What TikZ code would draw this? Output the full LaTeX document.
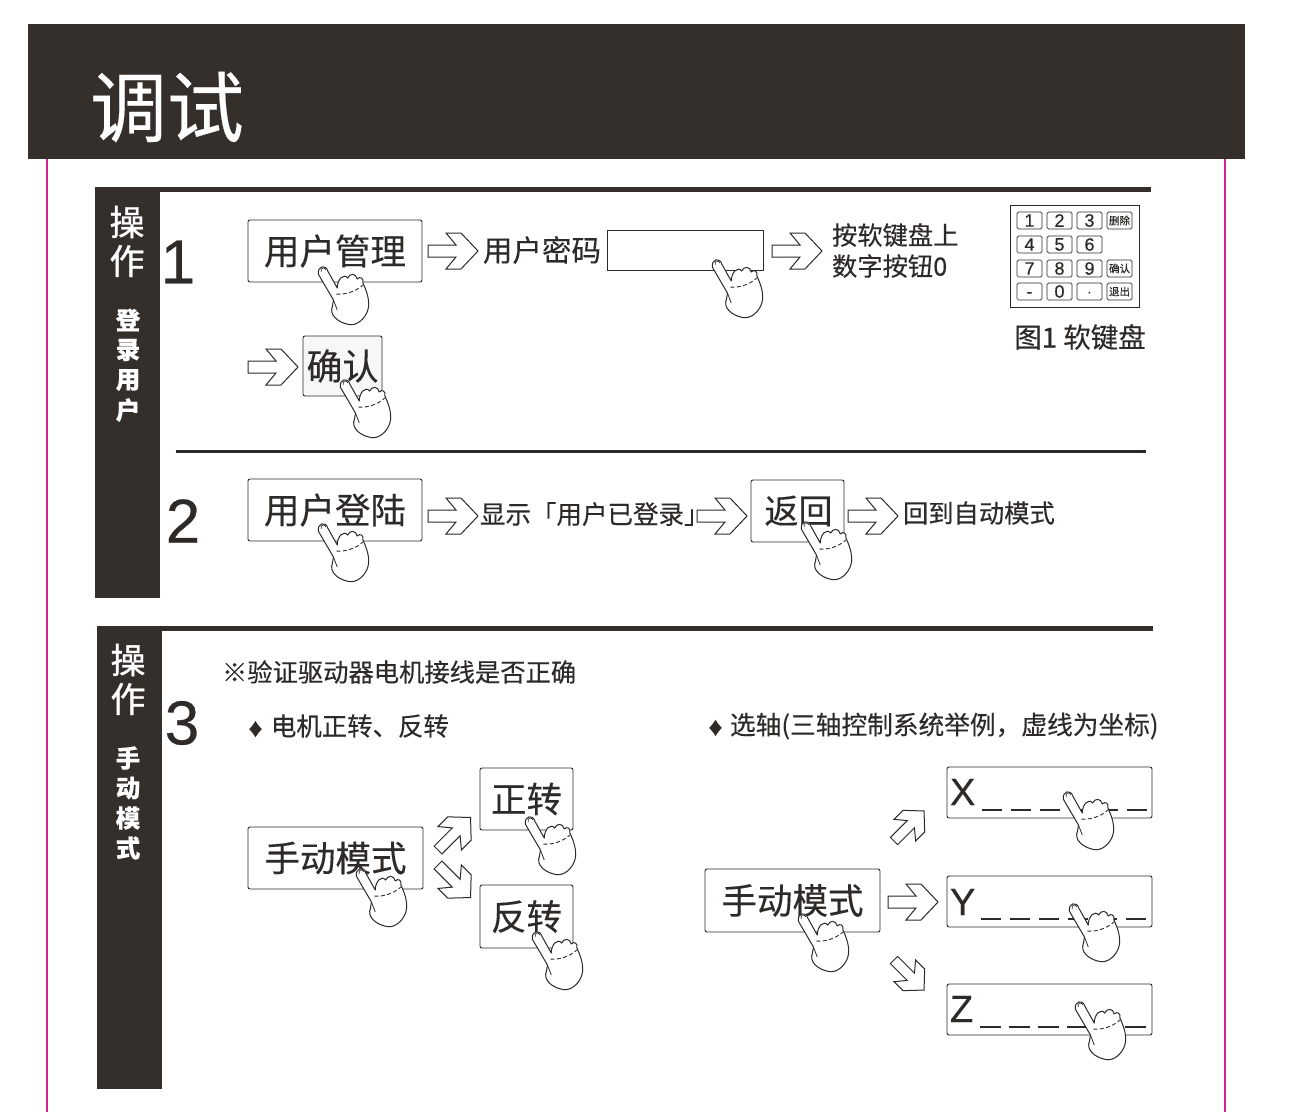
\documentclass[tikz,border=0pt]{standalone}
\usepackage{fontspec}
\setmainfont[FakeBold=0.25]{Noto Sans CJK SC}
\newfontfamily\heavy[FakeBold=1.0]{Noto Sans CJK SC}
\newfontfamily\lat[FakeBold=0.4]{Liberation Sans}
\definecolor{dark}{HTML}{352F2C}
\definecolor{pinkline}{HTML}{D4238C}
\definecolor{inkc}{HTML}{2E2A28}
\newcommand{\fs}[1]{\fontsize{#1}{#1}\selectfont}
\tikzset{
  x=1pt,y=-1pt,
  every node/.style={inner sep=0pt,outer sep=0pt,text=inkc},
  keybox/.style={draw=inkc,line width=0.9pt,rounded corners=2pt,fill=white},
  sidebar/.style={fill=dark,draw=none},
  sidetxt/.style={text=white,font=\heavy\fs{35}},
  sidesm/.style={text=white,font=\fs{24.5}\bfseries},
  bignum/.style={font=\lat\fs{62}},
  boxtxt/.style={font=\fs{35.5}},
  midtxt/.style={font=\fs{25.3},anchor=west},
  axistxt/.style={font=\lat\fs{38},anchor=west},
  padkey/.style={draw=inkc,line width=0.7pt,rounded corners=1.5pt,minimum width=25pt,minimum height=17pt,font=\lat\fs{18},anchor=north west},
  padsm/.style={draw=inkc,line width=0.7pt,rounded corners=1.5pt,minimum width=25pt,minimum height=17pt,font=\fs{10.5},anchor=north west},
  arrowpic/.pic={
    \draw[inkc,line width=1pt,fill=white,line join=miter] (0,-6)--(28,-6)--(18,-18)--(33,-18)--(50,0)--(33,18)--(18,18)--(28,6)--(0,6)--cycle;
  },
  handpic/.pic={
    \begin{scope}[xscale=0.95]
    \draw[inkc,line width=1pt,fill=white,line join=round]
      (-5,4) .. controls (-6,-4) and (3,-6) .. (5,1)
      -- (15,18)
      .. controls (15,9) and (22,3) .. (26,8)
      .. controls (28,3) and (35,3) .. (36,9)
      .. controls (39,6) and (43,8) .. (42,13)
      .. controls (48,25) and (50,35) .. (46,43)
      .. controls (42,51) and (33,57) .. (25,54)
      .. controls (16,52) and (6,45) .. (10,36)
      -- (11,30) -- cycle;
    \draw[inkc,line width=0.8pt] (11,30) -- (15,40);
    \draw[inkc,line width=0.9pt,dash pattern=on 4pt off 2.5pt] (14,24) .. controls (22,25) and (34,22) .. (42,15);
    \draw[inkc,line width=0.7pt] (-2,2) .. controls (-3,-3) and (2,-3) .. (3,0);
    \end{scope}
  }
}
\begin{document}
\begin{tikzpicture}
\useasboundingbox (0,0) rectangle (1304,1112);
\fill[white] (0,0) rectangle (1304,1112);
% frame
\draw[pinkline,line width=1.3pt] (47,159) -- (47,1112);
\draw[pinkline,line width=1.3pt] (1225,159) -- (1225,1112);
\fill[dark] (28,24) rectangle (1245,159);
\node[text=white,font=\fs{77}] (title) at (167,107) {调试};
% section 1/2 bars
\fill[sidebar] (95,187) rectangle (160,598);
\fill[sidebar] (160,187) rectangle (1151,192);
\node[sidetxt] (c1a) at (127,222) {操};
\node[sidetxt] (c1b) at (127,261) {作};
\node[sidesm] (c1c) at (128,320) {登};
\node[sidesm] (c1d) at (128,350) {录};
\node[sidesm] (c1e) at (128,380) {用};
\node[sidesm] (c1f) at (128,410) {户};
\node[bignum] (n1) at (178,262) {1};
\node[bignum] (n2) at (183,521) {2};
\draw[inkc,line width=3pt] (176,451) -- (1146,451);
% row 1
\node[keybox,boxtxt,minimum width=174pt,minimum height=62pt] (b1) at (335,251) {用户管理};
\pic at (323,270) {handpic};
\pic at (428,251) {arrowpic};
\node[font=\fs{29.5},anchor=west] (t1) at (483,250) {用户密码};
\node[draw=inkc,line width=0.9pt,fill=white,minimum width=156pt,minimum height=40pt] (b2) at (685,250) {};
\pic at (717,263) {handpic};
\pic at (772,251) {arrowpic};
\node[midtxt] (t2) at (832,235) {按软键盘上};
\node[midtxt] (t3) at (832,266) {数字按钮0};
% keypad
\node[draw=inkc,line width=0.9pt,minimum width=129pt,minimum height=102pt,anchor=north west] (pad) at (1010,205) {};
\node[padkey] (k1) at (1017,212) {1};
\node[padkey] (k2) at (1047,212) {2};
\node[padkey] (k3) at (1077,212) {3};
\node[padsm] (kd) at (1107,212) {删除};
\node[padkey] (k4) at (1017,236) {4};
\node[padkey] (k5) at (1047,236) {5};
\node[padkey] (k6) at (1077,236) {6};
\node[padkey] (k7) at (1017,260) {7};
\node[padkey] (k8) at (1047,260) {8};
\node[padkey] (k9) at (1077,260) {9};
\node[padsm] (ko) at (1107,260) {确认};
\node[padkey] (km) at (1017,283) {\vphantom{0}-};
\node[padkey] (k0) at (1047,283) {0};
\node[padkey] (kp) at (1077,283) {\vphantom{0}$\cdot$};
\node[padsm] (kq) at (1107,283) {退出};
\node[font=\fs{27.5}] (cap) at (1080,337) {图1 软键盘};
% confirm
\pic at (248,367) {arrowpic};
\node[keybox,fill=black!3,font=\fs{36},minimum width=79pt,minimum height=60pt] (b3) at (342.5,366) {确认};
\pic at (345,383) {handpic};
% row 2
\node[keybox,boxtxt,minimum width=174pt,minimum height=62pt] (b4) at (335,510) {用户登陆};
\pic at (323,527) {handpic};
\pic at (428,516) {arrowpic};
\node[font=\fs{25.5},anchor=west] (t4) at (480,514) {显示「用户已登录」};
\pic at (697,516) {arrowpic};
\node[keybox,font=\fs{34},minimum width=93pt,minimum height=62pt] (b5) at (797.5,511) {\hspace{2pt}返回};
\pic at (806,525) {handpic};
\pic at (848,516) {arrowpic};
\node[midtxt] (t5) at (903,513) {回到自动模式};
% section 3 bars
\fill[sidebar] (97,626) rectangle (162,1089);
\fill[sidebar] (162,626) rectangle (1153,631);
\node[sidetxt] (c2a) at (128,660) {操};
\node[sidetxt] (c2b) at (128,699) {作};
\node[sidesm] (c2c) at (128,758) {手};
\node[sidesm] (c2d) at (128,788) {动};
\node[sidesm] (c2e) at (128,818) {模};
\node[sidesm] (c2f) at (128,848) {式};
\node[bignum] (n3) at (182,723) {3};
\node[midtxt] (t6) at (222,672) {※验证驱动器电机接线是否正确};
\node[font=\fs{25.4},anchor=west] (t7) at (247,726) {{\fontsize{17}{17}\selectfont ♦}\hspace{7pt}电机正转、反转};
\node[font=\fs{25.7},anchor=west] (t8) at (707,726) {{\fontsize{17}{17}\selectfont ♦}\hspace{6pt}选轴(三轴控制系统举例，虚线为坐标)};
% left group
\node[keybox,boxtxt,minimum width=175pt,minimum height=62pt] (b6) at (335.5,858) {手动模式};
\pic at (361,872) {handpic};
\pic[rotate=45,scale=0.92] at (438,850) {arrowpic};
\pic[rotate=-45,scale=0.92] at (438,865) {arrowpic};
\node[keybox,boxtxt,minimum width=93pt,minimum height=62pt] (b7) at (526.5,799) {正转};
\pic at (530,820) {handpic};
\node[keybox,boxtxt,minimum width=93pt,minimum height=63pt] (b8) at (526.5,916.5) {反转};
\pic at (537,935) {handpic};
% right group
\node[keybox,boxtxt,minimum width=175pt,minimum height=63pt] (b9) at (792.5,900.5) {手动模式};
\pic at (803,917) {handpic};
\pic[rotate=45,scale=0.85] at (894,841) {arrowpic};
\pic at (888,902) {arrowpic};
\pic[rotate=-45,scale=0.85] at (894,960) {arrowpic};
\node[keybox,minimum width=205pt,minimum height=51pt] (bx) at (1049.5,792.5) {};
\node[keybox,minimum width=205pt,minimum height=51pt] (by) at (1049.5,901.5) {};
\node[keybox,minimum width=205pt,minimum height=51pt] (bz) at (1049.5,1009.5) {};
\node[axistxt] (lx) at (950,792) {X};
\node[axistxt] (ly) at (950,902) {Y};
\node[axistxt] (lz) at (950,1009) {Z};
\foreach \i in {0,...,5}{
  \draw[inkc,line width=2pt] (982+29*\i,810) -- ++(20,0);
  \draw[inkc,line width=2pt] (981+29*\i,919) -- ++(20,0);
  \draw[inkc,line width=2pt] (980+29*\i,1027) -- ++(21,0);
}
\pic at (1068,795) {handpic};
\pic at (1074,907) {handpic};
\pic at (1080,1005) {handpic};
\end{tikzpicture}
\end{document}
